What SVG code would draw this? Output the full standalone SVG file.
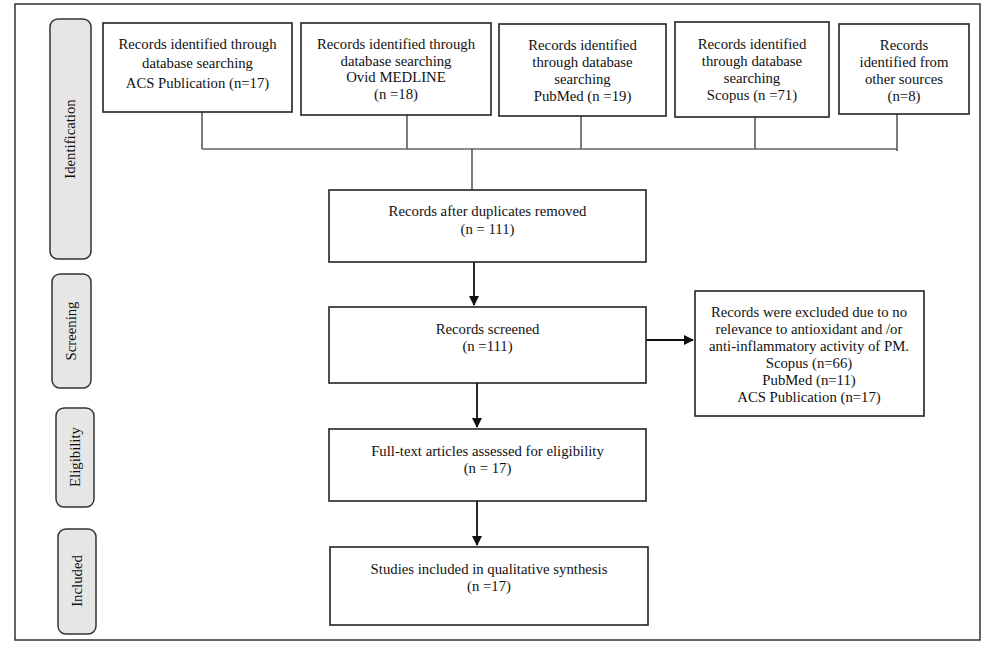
<svg xmlns="http://www.w3.org/2000/svg" width="1000" height="647" viewBox="0 0 1000 647">
<style>
text{font-family:"Liberation Serif","Times New Roman",serif;font-size:14.75px;fill:#111;text-anchor:middle}
.box{fill:#fff;stroke:#222;stroke-width:1.6}
.lab{fill:#e6e6e6;stroke:#333;stroke-width:1.5}
.ln{stroke:#333;stroke-width:1.3;fill:none}
.hl{stroke:#666;stroke-width:1.6;fill:none}
.ar{stroke:#111;stroke-width:1.8;fill:none;marker-end:url(#ah)}
</style>
<defs>
<marker id="ah" markerWidth="10" markerHeight="10" refX="9" refY="5" orient="auto" markerUnits="userSpaceOnUse">
<path d="M0,0 L10,5 L0,10 z" fill="#111"/>
</marker>
</defs>
<rect x="0" y="0" width="1000" height="647" fill="#fff"/>
<rect x="15" y="4" width="965" height="636" fill="none" stroke="#333" stroke-width="1.5"/>

<g id="stage-identification"><rect class="lab" x="50" y="19" width="41" height="240" rx="8"/><text transform="translate(75,139) rotate(-90)">Identification</text></g>
<g id="stage-screening"><rect class="lab" x="52" y="274" width="39" height="114" rx="8"/><text transform="translate(76,331) rotate(-90)">Screening</text></g>
<g id="stage-eligibility"><rect class="lab" x="56" y="408" width="38" height="99" rx="8"/><text transform="translate(80,457) rotate(-90)">Eligibility</text></g>
<g id="stage-included"><rect class="lab" x="58" y="529" width="38" height="105" rx="8"/><text transform="translate(82,581) rotate(-90)">Included</text></g>

<g id="connectors">
<line class="ln" x1="202" y1="112" x2="202" y2="149"/>
<line class="ln" x1="407" y1="115" x2="407" y2="149"/>
<line class="ln" x1="581" y1="116" x2="581" y2="149"/>
<line class="ln" x1="755" y1="117" x2="755" y2="149"/>
<line class="ln" x1="897" y1="114" x2="897" y2="151"/>
<line class="hl" x1="202" y1="149" x2="898" y2="149"/>
<line class="ln" x1="472" y1="149" x2="472" y2="190"/>
<line class="ar" x1="474" y1="262" x2="474" y2="305"/>
<line class="ar" x1="477" y1="383" x2="477" y2="427"/>
<line class="ar" x1="477" y1="501" x2="477" y2="545"/>
<line class="ar" x1="646" y1="340" x2="693" y2="340"/>
</g>

<g id="src-acs"><rect class="box" x="103" y="23" width="189" height="89"/>
<text x="197.5" y="49">Records identified through</text><text x="197.5" y="68">database searching</text><text x="197.5" y="88">ACS Publication (n=17)</text></g>
<g id="src-ovid"><rect class="box" x="301" y="23" width="190" height="92"/>
<text x="396" y="49">Records identified through</text><text x="396" y="66">database searching</text><text x="396" y="82">Ovid MEDLINE</text><text x="396" y="99">(n =18)</text></g>
<g id="src-pubmed"><rect class="box" x="499" y="24" width="167" height="92"/>
<text x="582.5" y="50">Records identified</text><text x="582.5" y="67">through database</text><text x="582.5" y="84">searching</text><text x="582.5" y="101">PubMed (n =19)</text></g>
<g id="src-scopus"><rect class="box" x="675" y="22" width="154" height="95"/>
<text x="752" y="49">Records identified</text><text x="752" y="66">through database</text><text x="752" y="83">searching</text><text x="752" y="100">Scopus (n =71)</text></g>
<g id="src-other"><rect class="box" x="839" y="24" width="130" height="90"/>
<text x="904" y="50">Records</text><text x="904" y="67">identified from</text><text x="904" y="84">other sources</text><text x="904" y="101">(n=8)</text></g>

<g id="dedup"><rect class="box" x="329" y="190" width="317" height="72"/>
<text x="487.5" y="216">Records after duplicates removed</text><text x="487.5" y="234">(n = 111)</text></g>
<g id="screened"><rect class="box" x="329" y="307" width="317" height="76"/>
<text x="487.5" y="334">Records screened</text><text x="487.5" y="351">(n =111)</text></g>
<g id="excluded"><rect class="box" x="695" y="291" width="229" height="125"/>
<text x="809" y="317">Records were excluded due to no</text><text x="809" y="334">relevance to antioxidant and /or</text><text x="809" y="351">anti-inflammatory activity of PM.</text><text x="809" y="368">Scopus (n=66)</text><text x="809" y="385">PubMed (n=11)</text><text x="809" y="402">ACS Publication (n=17)</text></g>
<g id="fulltext"><rect class="box" x="329" y="429" width="317" height="72"/>
<text x="487.5" y="456">Full-text articles assessed for eligibility</text><text x="487.5" y="473">(n = 17)</text></g>
<g id="included"><rect class="box" x="330" y="547" width="318" height="78"/>
<text x="489" y="574">Studies included in qualitative synthesis</text><text x="489" y="591">(n =17)</text></g>
</svg>
